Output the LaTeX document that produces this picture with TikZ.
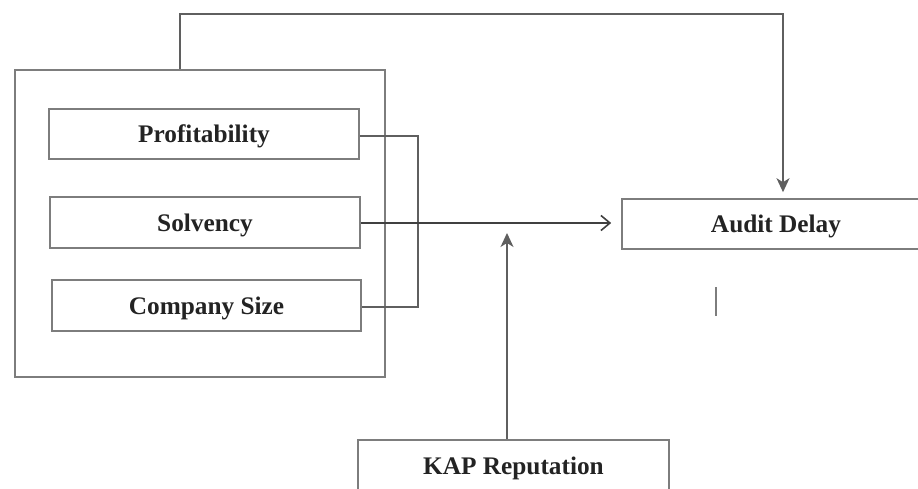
\documentclass[tikz,border=0pt]{standalone}
\usepackage{fontspec}
\setmainfont{Liberation Serif}
\usetikzlibrary{arrows.meta}
\definecolor{boxgray}{RGB}{125,125,125}
\definecolor{linegray}{RGB}{95,95,95}
\definecolor{txt}{RGB}{35,35,35}
\begin{document}
\begin{tikzpicture}[x=1pt,y=-1pt,
  box/.style={draw=boxgray,line width=1.6pt,rectangle,inner sep=0pt,
    font=\fontsize{25.3}{28}\selectfont\bfseries,text=txt,
    text height=17pt,text depth=0pt},
  conn/.style={draw=linegray,line width=1.4pt},
  headS/.style={-{Stealth[length=14pt,width=13pt,inset=4pt]}},
  headV/.style={-{Straight Barb[length=9pt,width=15pt,line width=1.6pt]}}]
\useasboundingbox (0,0) rectangle (918,489);
\clip (0,0) rectangle (918,489);
\node[box,minimum width=370pt,minimum height=307pt] (outer) at (200,223.5) {};
\node[box,minimum width=310pt,minimum height=50pt] (prof) at (204,134) {Profitability};
\node[box,minimum width=310pt,minimum height=51pt] (solv) at (205,222.5) {Solvency};
\node[box,minimum width=309pt,minimum height=51pt] (size) at (206.5,305.5) {Company Size};
\node[box,minimum width=308pt,minimum height=50pt] (audit) at (776,224) {Audit Delay};
\node[box,minimum width=311pt,minimum height=52pt] (kap) at (513.5,466) {KAP Reputation};
\coordinate (br) at (418,136);
\coordinate (tl) at (180,14);
\coordinate (tr) at (783,14);
\coordinate (mid) at (507,223);
\draw[conn,line width=1.2pt] (prof.east |- br) -- (br) |- (size.east |- 0,307);
\draw[conn,headV,draw=black!75] (solv.east |- 0,223) -- ([xshift=-10pt]audit.west |- 0,223);
\draw[conn,headS] (outer.north -| tl) -- (tl) -- (tr) -- ([yshift=6pt]audit.north -| tr);
\draw[conn,headS] (kap.north -| mid) -- ([yshift=-10pt]mid);
\draw[conn,line width=1.2pt,draw=boxgray] (716,287) -- (716,316);
\end{tikzpicture}
\end{document}
